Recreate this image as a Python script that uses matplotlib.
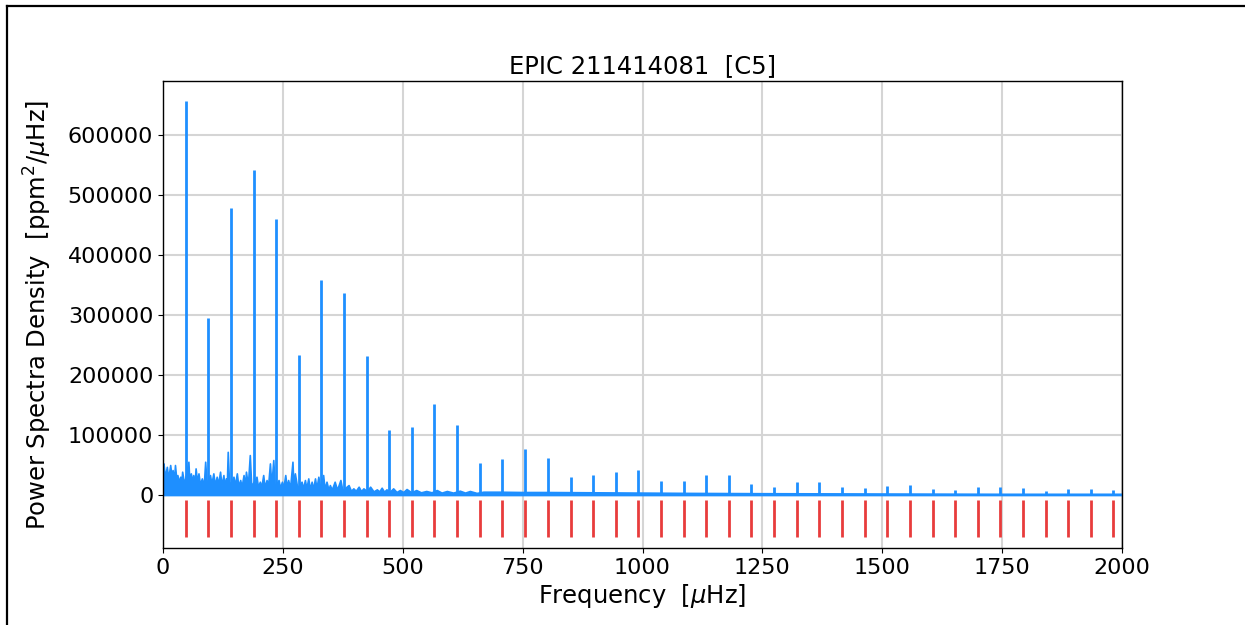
import matplotlib
matplotlib.use("Agg")
import matplotlib.pyplot as plt
from matplotlib.lines import Line2D

title = "EPIC 211414081  [C5]"
xlabel = "Frequency  [$\\mu$Hz]"
ylabel = "Power Spectra Density  [ppm$^2$/$\\mu$Hz]"

# Harmonic peak frequencies (muHz) and their power (ppm^2/muHz)
peak_freq = [47, 94, 142, 189, 236, 283, 330, 378, 425, 472, 519, 566,
             614, 661, 708, 755, 802, 850, 897, 944, 991, 1038, 1086, 1133,
             1180, 1227, 1274, 1322, 1369, 1416, 1463, 1510, 1558, 1605, 1652,
             1699, 1746, 1794, 1841, 1888, 1935, 1982]
peak_power = [657000, 295000, 478000, 542000, 460000, 233000, 358000, 337000,
              232000, 108000, 113000, 152000, 117000, 52700, 60000, 76600,
              62000, 30500, 33300, 37700, 41600, 23300, 22800, 33300, 32700,
              18300, 13900, 21600, 21600, 13300, 11100, 15000, 16100, 10500,
              7800, 13300, 13900, 11100, 6100, 9400, 10000, 8300]

# Red markers at the expected harmonic positions
marker_freq = peak_freq
marker_low = -69500
marker_high = -8500

# Noise envelope
noise_freq = [0, 1, 4, 8, 11, 15, 18, 20, 23, 25, 28, 30, 33, 36, 38, 40, 44,
              53, 55, 58, 61, 63, 66, 68, 71, 74, 77, 81, 85, 88, 91,
              98, 101, 105, 108, 112, 115, 119, 122, 126, 128, 131, 133, 135,
              138, 147, 150, 154, 157, 161, 164, 168, 171, 173, 177, 181, 184,
              195, 198, 202, 205, 209, 212, 216, 219, 223, 226, 230, 233,
              241, 244, 248, 251, 255, 258, 261, 265, 270, 272, 275, 280, 289,
              292, 296, 299, 303, 306, 310, 313, 317, 320, 324, 328, 334, 337,
              341, 345, 348, 352, 358, 363, 370, 374, 387, 392, 397, 402, 408,
              413, 418, 425, 432, 439, 446, 451, 456, 461, 466, 473, 480, 487,
              494, 501, 508, 518, 528, 538, 549, 560, 571, 581, 592, 605, 619,
              630, 640, 654, 668, 700, 750, 800, 900, 1000, 1100, 1250, 1500,
              1750, 2000]
noise_power = [52700, 52700, 30000, 47000, 28000, 50000, 30000, 41600, 26000,
               50000, 24000, 33300, 22000, 30500, 20000, 38900, 18000,
               55500, 22000, 36100, 21000, 33300, 20000, 44400, 22000, 36100,
               18000, 27700, 16000, 55500, 18000,
               33300, 19000, 36100, 17000, 30500, 18000, 38900, 16000, 33300,
               15000, 27700, 15000, 72000,
               16000, 30500, 16000, 36100, 15000, 25000, 14000, 33300, 15000,
               38900, 16000, 66600, 15000,
               30500, 14000, 22200, 13000, 33300, 13000, 25000, 14000, 52700,
               16000, 58300, 14000,
               25000, 12000, 22200, 12000, 33300, 13000, 25000, 12000, 55500,
               14000, 36100, 12000, 22200,
               11000, 25000, 11000, 27700, 10000, 22200, 10000, 27700, 11000,
               30500, 11000, 33300, 10000,
               22200, 9000, 16600, 9000, 22200, 9000, 25000, 8000, 16600,
               7000, 11100, 7000, 13900,
               6500, 11100, 6500, 13900, 6000, 9400, 6000, 12200, 5500, 9400,
               5500, 11100, 5000,
               8300, 5000, 10000, 4500, 8300, 4500, 6700, 4500, 8300, 4000,
               6700, 4000, 7200,
               4000, 6700, 3500, 5500, 5500, 5000, 5000, 4500, 4000, 3500,
               3000, 2500, 2000, 2000]

xticks = [0, 250, 500, 750, 1000, 1250, 1500, 1750, 2000]
yticks = [0, 100000, 200000, 300000, 400000, 500000, 600000]

blue = "#1e8fff"
red = "#e83c3c"

fig = plt.figure(figsize=(12.45, 6.25), dpi=100)
ax = fig.add_axes([163 / 1245, 1 - 548 / 625, (1122 - 163) / 1245, (548 - 81) / 625])

ax.fill_between(noise_freq, 0, noise_power, color=blue, lw=1.2, zorder=2)
ax.vlines(peak_freq, 0, peak_power, color=blue, lw=2, zorder=3)
ax.vlines(marker_freq, marker_low, marker_high, color=red, lw=2, zorder=3)

ax.set_xlim(0, 2000)
ax.set_ylim(-88300, 690000)
ax.set_xticks(xticks)
ax.set_yticks(yticks)
ax.tick_params(labelsize=16)
ax.grid(True, color="#d5d5d5", lw=1.5)
ax.set_axisbelow(True)
for s in ax.spines.values():
    s.set_linewidth(1.0)

ax.set_title(title, fontsize=17.5)
ax.set_xlabel(xlabel, fontsize=17.5, labelpad=3)
ax.set_ylabel(ylabel, fontsize=17.5, labelpad=10)

# outer frame (left and top edges)
fig.add_artist(Line2D([7 / 1245, 7 / 1245], [0, 1 - 6 / 625], transform=fig.transFigure,
                      color="black", lw=1.6))
fig.add_artist(Line2D([7 / 1245, 1], [1 - 6 / 625, 1 - 6 / 625], transform=fig.transFigure,
                      color="black", lw=1.6))

fig.savefig("out.png", dpi=100)
